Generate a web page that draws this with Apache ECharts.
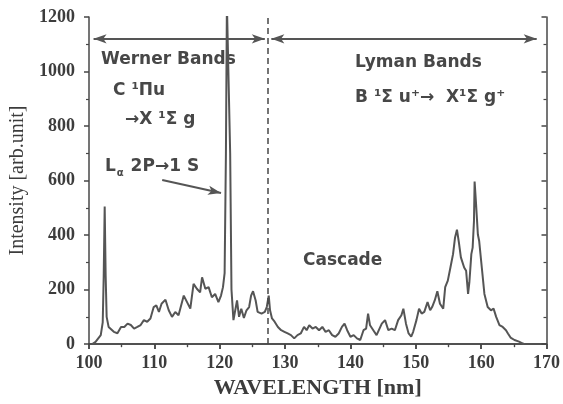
<!DOCTYPE html>
<html lang="en">
<head>
    <meta charset="UTF-8">
    <title>H2 emission spectrum</title>
    <script src="https://cdn.jsdelivr.net/npm/echarts/dist/echarts.min.js"></script>
    <style>
        body { margin: 0; background: #fff; }
        #chart { width: 563px; height: 404px; }
    </style>
</head>
<body>
<div id="chart"></div>
<script>
    // spectrum: wavelength (nm) and intensity (arb. unit)
    var wavelength = [
        100.5, 101.0, 101.3, 101.8, 102.1, 102.25, 102.4, 102.55, 102.7, 103.0,
        103.3, 103.8, 104.35, 104.9, 105.4, 105.9, 106.4, 106.9, 107.4, 107.9,
        108.4, 108.9, 109.4, 109.9, 110.3, 110.7, 111.1, 111.7, 112.2, 112.7,
        113.2, 113.7, 114.5, 115.0, 115.5, 116.0, 116.5, 117.0, 117.3, 117.8,
        118.3, 118.8, 119.3, 119.8, 120.2, 120.5, 120.75, 120.95, 121.1, 121.4,
        121.6, 121.8, 122.1, 122.3, 122.65, 122.96, 123.3, 123.7, 124.1, 124.5,
        124.8, 125.1, 125.5, 125.8, 126.4, 126.9, 127.2, 127.5, 127.7, 128.0,
        128.4, 128.9, 129.4, 129.9, 130.4, 130.9, 131.4, 131.9, 132.4, 132.9,
        133.3, 133.7, 134.2, 134.7, 135.2, 135.7, 136.2, 136.7, 137.2, 137.7,
        138.2, 138.7, 139.1, 139.5, 140.0, 140.5, 141.0, 141.5, 142.0, 142.4,
        142.7, 143.0, 143.5, 144.0, 144.3, 144.8, 145.3, 145.8, 146.3, 146.8,
        147.3, 147.8, 148.1, 148.5, 148.9, 149.3, 149.6, 150.1, 150.5, 150.9,
        151.3, 151.8, 152.2, 152.5, 152.9, 153.3, 153.7, 154.2, 154.5, 154.9,
        155.3, 155.7, 156.0, 156.3, 156.6, 156.9, 157.4, 157.7, 158.0, 158.2,
        158.5, 158.7, 158.9, 159.0, 159.2, 159.5, 159.7, 160.1, 160.5, 161.0,
        161.5, 161.9, 162.3, 162.8, 163.3, 163.8, 164.1, 164.5, 165.1, 165.8,
        166.3, 166.6
    ];
    var intensity = [
        0, 8, 15, 33, 80, 250, 505, 250, 100, 63,
        57, 45, 40, 63, 63, 75, 70, 57, 63, 70,
        88, 82, 94, 136, 142, 118, 148, 163, 124, 100,
        118, 106, 178, 154, 130, 221, 203, 190, 245, 203,
        209, 172, 184, 154, 178, 209, 260, 700, 1250, 1250,
        700, 200, 88, 90, 160, 100, 130, 96, 124, 136,
        178, 194, 160, 118, 112, 118, 136, 178, 124, 94,
        82, 63, 51, 45, 39, 33, 21, 33, 39, 63,
        51, 69, 57, 63, 51, 63, 45, 51, 33, 27,
        39, 63, 75, 51, 27, 33, 21, 15, 51, 57,
        112, 69, 51, 33, 39, 75, 88, 51, 57, 51,
        88, 106, 130, 75, 39, 27, 45, 88, 130, 112,
        118, 154, 124, 136, 160, 194, 148, 130, 209, 233,
        281, 330, 390, 420, 372, 318, 281, 269, 184, 227,
        330, 354, 450, 596, 523, 402, 378, 281, 184, 136,
        124, 130, 100, 70, 63, 51, 39, 24, 15, 9,
        3, 0
    ];

    // annotation positions in data units
    var bandDivider = 127.4;
    var bandArrowLevel = 1120;
    var wernerRange = [100.7, 126.9];
    var lymanRange = [127.9, 168.5];
    var lyAlphaArrow = [[111.2, 602], [120.2, 554]];

    var ink = '#474747';
    var labelFont = {
        fontFamily: 'Liberation Serif', fontWeight: 'bold', fontSize: 18, color: '#3c3c3c',
        formatter: function (v) { return String(v); }
    };
    var noteFont = 'bold 17px "DejaVu Sans"';

    var chart = echarts.init(document.getElementById('chart'));

    var points = wavelength.map(function (w, i) { return [w, intensity[i]]; });

    function mirrorAxis(pos, min, max, interval) {
        return {
            type: 'value', position: pos, min: min, max: max, interval: interval,
            axisLine: { show: true, lineStyle: { color: ink, width: 1.5 } },
            axisTick: { show: true, inside: true, length: 5, lineStyle: { color: ink, width: 1.5 } },
            minorTick: { show: true, splitNumber: 2, length: 3, lineStyle: { color: ink, width: 1.2 } },
            axisLabel: { show: false },
            splitLine: { show: false }
        };
    }

    chart.setOption({
        animation: false,
        grid: { left: 89, right: 15, top: 17, bottom: 57 },
        xAxis: [
            {
                type: 'value', min: 100, max: 170, interval: 10,
                name: 'WAVELENGTH [nm]', nameLocation: 'middle', nameGap: 32,
                nameTextStyle: { fontFamily: 'Liberation Serif', fontWeight: 'bold', fontSize: 22, color: '#3c3c3c' },
                axisLine: { lineStyle: { color: ink, width: 1.5 } },
                axisTick: { length: 5, lineStyle: { color: ink, width: 1.5 } },
                minorTick: { show: true, splitNumber: 2, length: 3, lineStyle: { color: ink, width: 1.2 } },
                axisLabel: Object.assign({ margin: 10 }, labelFont),
                splitLine: { show: false }
            },
            mirrorAxis('top', 100, 170, 10)
        ],
        yAxis: [
            {
                type: 'value', min: 0, max: 1200, interval: 200,
                name: 'Intensity [arb.unit]', nameLocation: 'middle', nameGap: 57,
                nameTextStyle: { fontFamily: 'Liberation Serif', fontSize: 20, color: '#3c3c3c' },
                axisLine: { show: true, lineStyle: { color: ink, width: 1.5 } },
                axisTick: { length: 5, lineStyle: { color: ink, width: 1.5 } },
                minorTick: { show: true, splitNumber: 2, length: 3, lineStyle: { color: ink, width: 1.2 } },
                axisLabel: Object.assign({ margin: 14 }, labelFont),
                splitLine: { show: false }
            },
            mirrorAxis('right', 0, 1200, 200)
        ],
        series: [{
            type: 'line',
            data: points,
            showSymbol: false,
            clip: true,
            lineStyle: { color: '#555', width: 2 },
            markLine: {
                silent: true,
                animation: false,
                label: { show: false },
                symbolSize: [7, 13],
                lineStyle: { color: '#555', width: 2, type: 'solid' },
                data: [
                    [{ coord: [bandDivider, 0], symbol: 'none', lineStyle: { type: [6, 4], width: 1.5, color: ink } },
                     { coord: [bandDivider, 1200], symbol: 'none' }],
                    [{ coord: [wernerRange[0], bandArrowLevel], symbol: 'arrow' },
                     { coord: [wernerRange[1], bandArrowLevel], symbol: 'arrow' }],
                    [{ coord: [lymanRange[0], bandArrowLevel], symbol: 'arrow' },
                     { coord: [lymanRange[1], bandArrowLevel], symbol: 'arrow' }],
                    [{ coord: lyAlphaArrow[0], symbol: 'none' },
                     { coord: lyAlphaArrow[1], symbol: 'arrow' }]
                ]
            }
        }],
        graphic: [
            { type: 'text', x: 101, y: 60, style: { text: 'Werner Bands', font: noteFont, fill: ink, textVerticalAlign: 'middle' } },
            { type: 'text', x: 113, y: 91, style: { text: 'C \u00b9\u03a0u', font: noteFont, fill: ink, textVerticalAlign: 'middle' } },
            { type: 'text', x: 125, y: 120, style: { text: '\u2192X \u00b9\u03a3 g', font: noteFont, fill: ink, textVerticalAlign: 'middle' } },
            {
                type: 'text', x: 105, y: 158,
                style: {
                    text: '{m|L}{s|\u03b1}{m| 2P\u21921 S}',
                    fill: ink,
                    rich: {
                        m: { font: noteFont, fill: ink, lineHeight: 20, verticalAlign: 'top' },
                        s: { font: 'bold 10px "DejaVu Sans"', fill: ink, lineHeight: 20, verticalAlign: 'bottom', padding: [10, 1, 0, 1] }
                    }
                }
            },
            { type: 'text', x: 355, y: 63, style: { text: 'Lyman Bands', font: noteFont, fill: ink, textVerticalAlign: 'middle' } },
            { type: 'text', x: 355, y: 98, style: { text: 'B \u00b9\u03a3 u\u207a\u2192  X\u00b9\u03a3 g\u207a', font: noteFont, fill: ink, textVerticalAlign: 'middle' } },
            { type: 'text', x: 303, y: 261, style: { text: 'Cascade', font: noteFont, fill: ink, textVerticalAlign: 'middle' } }
        ]
    });
</script>
</body>
</html>
